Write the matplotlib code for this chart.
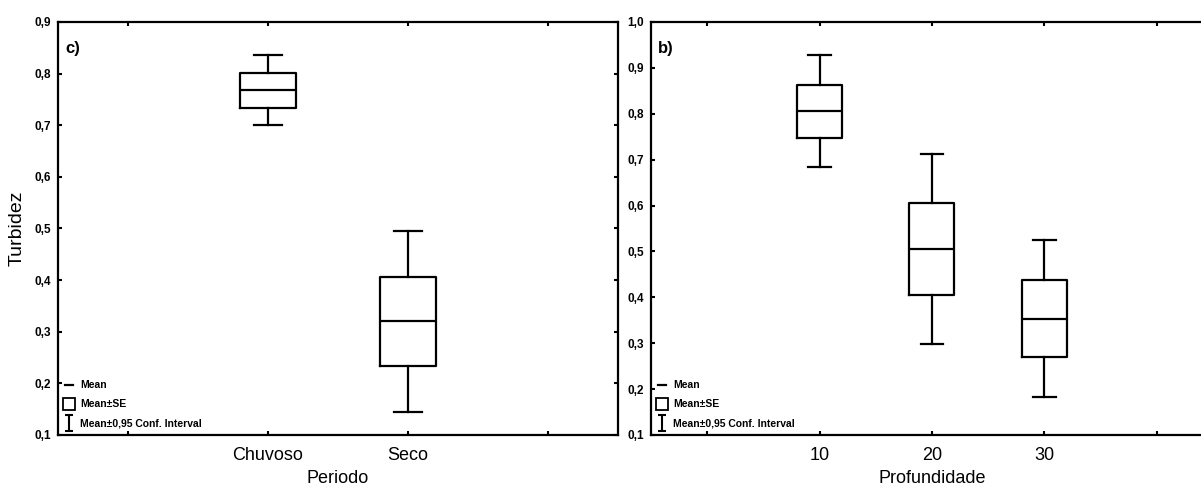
import matplotlib.pyplot as plt
from matplotlib.lines import Line2D
from matplotlib.path import Path
from matplotlib.ticker import FuncFormatter, MultipleLocator

plt.rcParams['font.family'] = ['Liberation Sans', 'DejaVu Sans']

# Turbidez by season: mean, standard error, 95% CI half-width
periodo = ['Chuvoso', 'Seco']
mean_periodo = [0.768, 0.320]
se_periodo = [0.034, 0.086]
ci_periodo = [0.068, 0.176]

# Turbidez by depth
profundidade = ['10', '20', '30']
mean_prof = [0.805, 0.505, 0.353]
se_prof = [0.058, 0.100, 0.084]
ci_prof = [0.122, 0.207, 0.171]

# capped bar glyph for the confidence interval legend entry
CI_GLYPH = Path([(-0.5, 1), (0.5, 1), (0, 1), (0, -1), (-0.5, -1), (0.5, -1)],
                [Path.MOVETO, Path.LINETO, Path.MOVETO, Path.LINETO,
                 Path.MOVETO, Path.LINETO])


def box_stats(labels, means, ses, cis):
    return [dict(label=l, med=m, q1=m - s, q3=m + s, whislo=m - c, whishi=m + c)
            for l, m, s, c in zip(labels, means, ses, cis)]


def comma(v, pos):
    return f"{v:.1f}".replace('.', ',')


def draw_panel(ax, labels, means, ses, cis, ylim, tag, xlabel):
    line = dict(color='black', linewidth=1.6)
    n = len(labels)
    ax.bxp(box_stats(labels, means, ses, cis), positions=range(1, n + 1),
           widths=0.4, capwidths=0.2, showfliers=False, manage_ticks=False,
           boxprops=line, medianprops=line, whiskerprops=line, capprops=line)
    ax.set_xlim(-0.5, n + 1.5)
    ax.set_ylim(*ylim)
    ax.set_xticks(range(0, n + 2))
    ax.set_xticklabels([''] + labels + [''], fontsize=13)
    ax.yaxis.set_major_locator(MultipleLocator(0.1))
    ax.yaxis.set_major_formatter(FuncFormatter(comma))
    for lbl in ax.get_yticklabels():
        lbl.set_fontsize(8.5)
        lbl.set_fontweight('bold')
    ax.tick_params(direction='in', length=3, width=1.5, top=True, right=True)
    ax.tick_params(axis='x', pad=9)
    ax.tick_params(axis='y', pad=5)
    for sp in ax.spines.values():
        sp.set_linewidth(1.6)
    ax.set_xlabel(xlabel, fontsize=13, labelpad=4)
    ax.text(0.013, 0.935, tag, transform=ax.transAxes, fontsize=12,
            fontweight='bold', va='center')

    handles = [
        Line2D([], [], color='black', lw=1.6),
        Line2D([], [], ls='none', marker='s', mfc='none', mec='black', ms=9, mew=1.3),
        Line2D([], [], ls='none', marker=CI_GLYPH, mfc='none', mec='black', ms=11, mew=1.5),
    ]
    ax.legend(handles, ['Mean', 'Mean±SE', 'Mean±0,95 Conf. Interval'],
              loc='lower left', frameon=False, handlelength=0.8,
              handletextpad=0.7, labelspacing=0.85, borderaxespad=0.15,
              borderpad=0.5, prop=dict(size=7.5, weight='bold'))


fig = plt.figure(figsize=(12.01, 4.91), dpi=100)
ax1 = fig.add_axes([0.0483, 0.1141, 0.4663, 0.8411])
ax2 = fig.add_axes([0.5420, 0.1141, 0.4680, 0.8411])

draw_panel(ax1, periodo, mean_periodo, se_periodo, ci_periodo, (0.1, 0.9), 'c)', 'Periodo')
draw_panel(ax2, profundidade, mean_prof, se_prof, ci_prof, (0.1, 1.0), 'b)', 'Profundidade')
ax1.set_ylabel('Turbidez', fontsize=14, labelpad=6)

fig.savefig('out.png', dpi=100)
